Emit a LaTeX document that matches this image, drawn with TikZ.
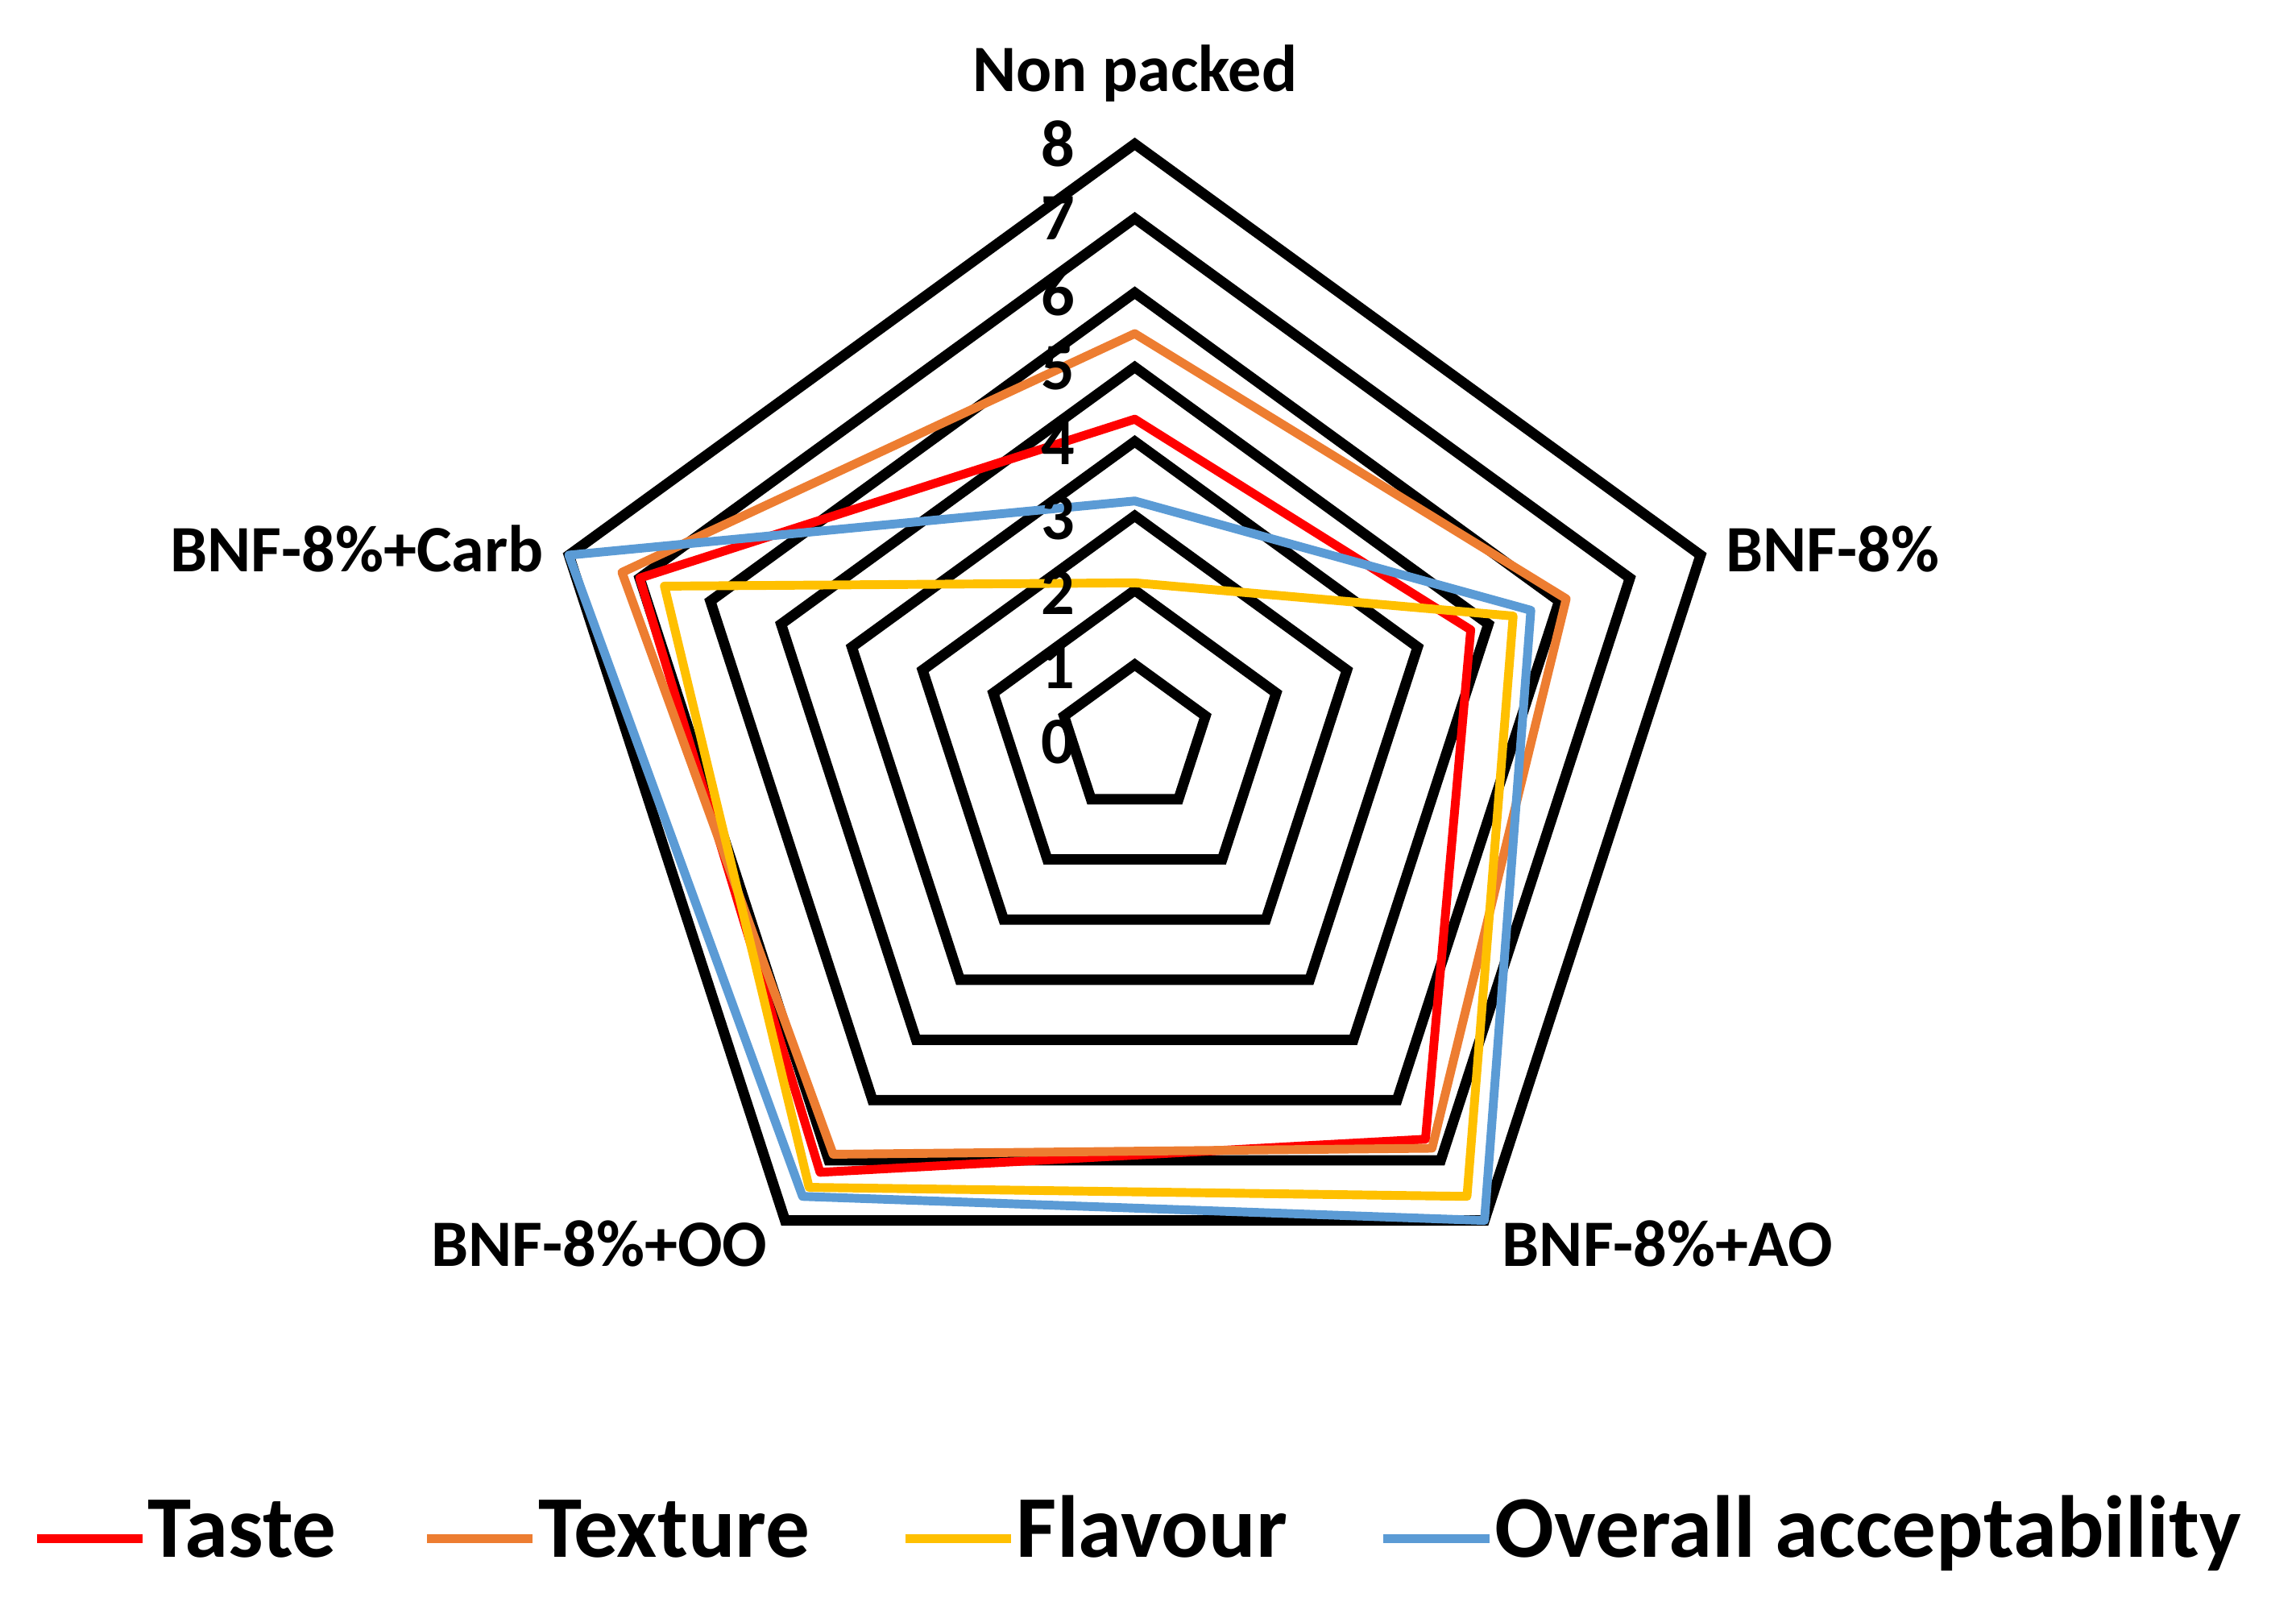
\documentclass[tikz,border=0pt]{standalone}
\usepackage{fontspec}
\setmainfont{Carlito}
\usetikzlibrary{positioning}
\definecolor{tastecol}{HTML}{FF0000}
\definecolor{texturecol}{HTML}{ED7D31}
\definecolor{flavourcol}{HTML}{FFC000}
\definecolor{overallcol}{HTML}{5B9BD5}
\tikzset{
  grid/.style={black,line width=2pt,line join=miter},
  series/.style={line width=1.7pt,line join=round},
  axislabel/.style={font=\bfseries\fontsize{12.8}{15}\selectfont,inner sep=0pt},
  ticklabel/.style={font=\bfseries\fontsize{12.8}{15}\selectfont,inner sep=0pt,anchor=east},
  legendtext/.style={font=\bfseries\fontsize{17}{20}\selectfont,inner sep=0pt,anchor=base west}
}
\newcommand{\radarpath}[5]{(90:#1*0.505) -- (18:#2*0.505) -- (-54:#3*0.505) -- (-126:#4*0.505) -- (162:#5*0.505) -- cycle}
\begin{document}
\begin{tikzpicture}[x=0.01cm,y=-0.01cm]
\useasboundingbox (0,0) rectangle (1560,1096);
\coordinate (c) at (771,502);
\begin{scope}[shift={(c)},x=1cm,y=1cm]
  % grid
  \foreach \r in {1,...,8}
    \draw[grid] \radarpath{\r}{\r}{\r}{\r}{\r};
  % series
  \draw[series,tastecol] \radarpath{4.3}{4.75}{6.65}{7.2}{7.0};
  \draw[series,texturecol] \radarpath{5.45}{6.1}{6.8}{6.9}{7.25};
  \draw[series,flavourcol] \radarpath{2.1}{5.35}{7.6}{7.45}{6.65};
  \draw[series,overallcol] \radarpath{3.2}{5.6}{8}{7.6}{8};
\end{scope}
% tick labels
\foreach \v in {0,...,8}
  \node[ticklabel] (t\v) at (731,504-50.8*\v) {\v};
% axis labels
\node[axislabel] (np) at (771,50) {Non packed};
\node[axislabel,anchor=west] (bnf) at (1172,373) {BNF-8\%};
\node[axislabel,anchor=east] (carb) at (370,373) {BNF-8\%+Carb};
\node[axislabel,anchor=west] (ao) at (1020,845) {BNF-8\%+AO};
\node[axislabel,anchor=east] (oo) at (522,845) {BNF-8\%+OO};
% legend
\foreach \x/\col/\txt/\nm in {25/tastecol/Taste/taste,290/texturecol/Texture/texture,615/flavourcol/Flavour/flavour,940/overallcol/Overall acceptability/overall}{
  \coordinate (l\nm a) at (\x,1045);
  \coordinate (l\nm b) at (\x+72,1045);
  \draw[series,\col,line cap=butt] (l\nm a) -- (l\nm b);
  \node[legendtext] (l\nm) at (\x+75,1058) {\txt};
}
\end{tikzpicture}
\end{document}
